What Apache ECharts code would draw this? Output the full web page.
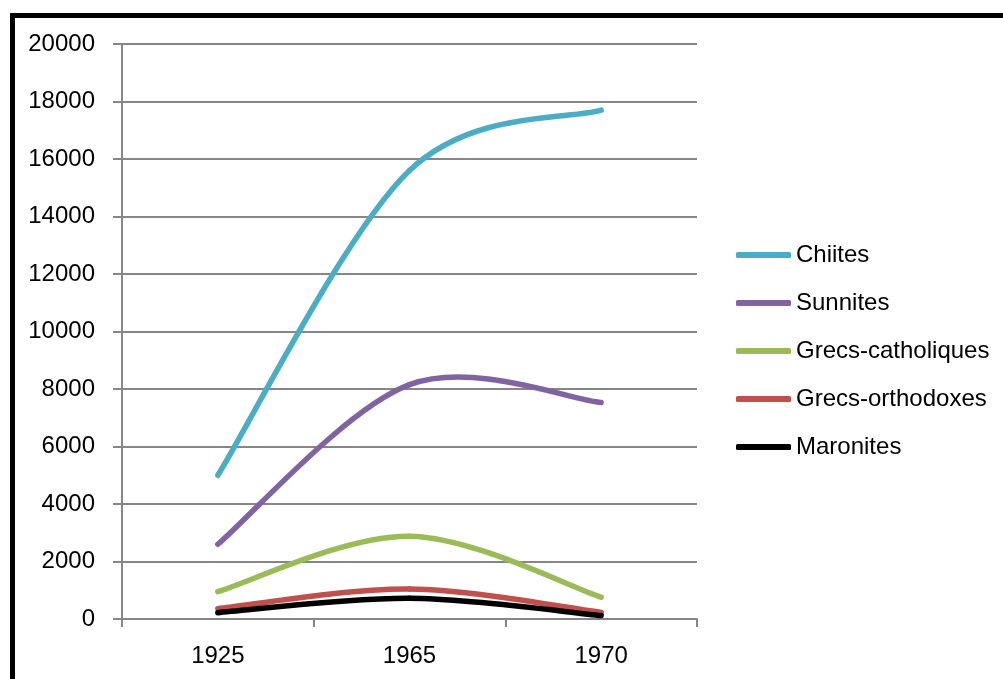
<!DOCTYPE html>
<html>
<head>
<meta charset="utf-8">
<style>
  html, body { margin: 0; padding: 0; background: #ffffff; }
  #chart { width: 1003px; height: 679px; }
</style>
<script src="https://cdn.jsdelivr.net/npm/echarts@6/dist/echarts.min.js"></script>
</head>
<body>
<div id="chart"></div>
<script>
// Years on the horizontal axis
const years = ['1925', '1965', '1970'];

// Population by community
const chiites = [5000, 15600, 17700];
const sunnites = [2600, 8150, 7530];
const grecsCatholiques = [950, 2880, 760];
const grecsOrthodoxes = [360, 1040, 230];
const maronites = [220, 720, 120];

const seriesNames = ['Chiites', 'Sunnites', 'Grecs-catholiques', 'Grecs-orthodoxes', 'Maronites'];
const seriesData = [chiites, sunnites, grecsCatholiques, grecsOrthodoxes, maronites];
const seriesColors = ['#4BACC6', '#8064A2', '#9BBB59', '#C0504D', '#000000'];

const FONT = 'Liberation Sans';
const chart = echarts.init(document.getElementById('chart'));

// Smoothed line through the data points: cubic Bezier segments whose
// control points sit 1/6 of the neighbour span away (Catmull-Rom style).
function smoothRenderer(values, color) {
  return function (params, api) {
    if (params.dataIndex !== 0) return null;
    const pts = values.map((v, i) => api.coord([i, v]));
    const n = pts.length;
    const children = [];
    for (let i = 0; i < n - 1; i++) {
      const p0 = pts[Math.max(i - 1, 0)];
      const p1 = pts[i];
      const p2 = pts[i + 1];
      const p3 = pts[Math.min(i + 2, n - 1)];
      children.push({
        type: 'bezierCurve',
        shape: {
          x1: p1[0], y1: p1[1],
          x2: p2[0], y2: p2[1],
          cpx1: p1[0] + (p2[0] - p0[0]) / 6,
          cpy1: p1[1] + (p2[1] - p0[1]) / 6,
          cpx2: p2[0] - (p3[0] - p1[0]) / 6,
          cpy2: p2[1] - (p3[1] - p1[1]) / 6
        },
        style: { stroke: color, lineWidth: 5.5, fill: null, lineCap: 'round', lineJoin: 'round' }
      });
    }
    return { type: 'group', children: children };
  };
}

chart.setOption({
  animation: false,
  backgroundColor: '#ffffff',
  textStyle: { fontFamily: FONT },
  grid: { left: 122, right: 306, top: 44, bottom: 60 },
  xAxis: {
    type: 'category',
    data: years,
    boundaryGap: true,
    axisLine: { show: true, lineStyle: { color: '#868686', width: 2 } },
    axisTick: { show: true, interval: 0, length: 8, lineStyle: { color: '#868686', width: 2 } },
    axisLabel: { color: '#000000', fontSize: 24, fontFamily: FONT, margin: 25 },
    splitLine: { show: false }
  },
  yAxis: {
    type: 'value',
    min: 0,
    max: 20000,
    interval: 2000,
    axisLine: { show: true, lineStyle: { color: '#868686', width: 2 } },
    axisTick: { show: true, length: 9, lineStyle: { color: '#868686', width: 2 } },
    axisLabel: { color: '#000000', fontSize: 24, fontFamily: FONT, margin: 27, formatter: (v) => String(v) },
    splitLine: { show: true, lineStyle: { color: '#868686', width: 2 } }
  },
  legend: {
    orient: 'vertical',
    left: 731,
    top: 238,
    itemGap: 24,
    itemWidth: 55,
    itemHeight: 6,
    icon: 'roundRect',
    textStyle: { color: '#000000', fontSize: 24, fontFamily: FONT },
    data: seriesNames
  },
  series: seriesNames.map((name, i) => ({
    name: name,
    type: 'custom',
    coordinateSystem: 'cartesian2d',
    data: seriesData[i].map((v, j) => [j, v]),
    encode: { x: 0, y: 1 },
    renderItem: smoothRenderer(seriesData[i], seriesColors[i]),
    color: seriesColors[i],
    itemStyle: { color: seriesColors[i] },
    z: 2
  })),
  graphic: [
    // Black frame along the top and left edges
    { type: 'rect', left: 10, top: 13, shape: { width: 993, height: 5 }, style: { fill: '#000000' } },
    { type: 'rect', left: 10, top: 13, shape: { width: 5, height: 666 }, style: { fill: '#000000' } }
  ]
});
</script>
</body>
</html>
